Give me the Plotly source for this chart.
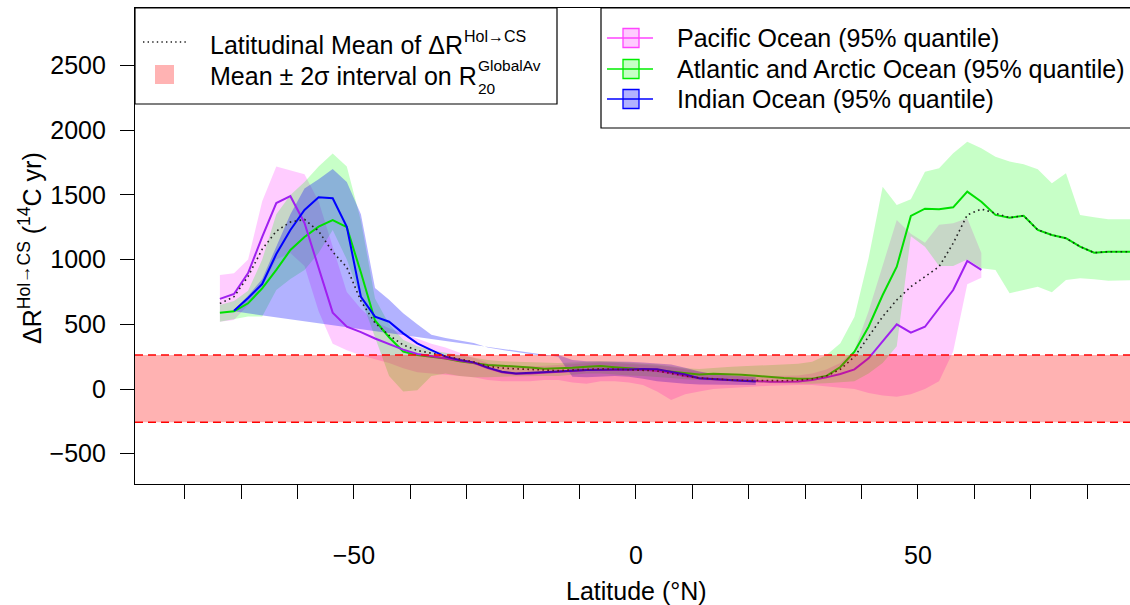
import plotly.graph_objects as go

# ---------------- data ----------------
lat = [-73.75, -71.25, -68.75, -66.25, -63.75, -61.25, -58.75, -56.25, -53.75, -51.25,
       -48.75, -46.25, -43.75, -41.25, -38.75, -36.25, -33.75, -31.25, -28.75, -26.25,
       -23.75, -21.25, -18.75, -16.25, -13.75, -11.25, -8.75, -6.25, -3.75, -1.25,
       1.25, 3.75, 6.25, 8.75, 11.25, 13.75, 16.25, 18.75, 21.25, 23.75,
       26.25, 28.75, 31.25, 33.75, 36.25, 38.75, 41.25, 43.75, 46.25, 48.75,
       51.25, 53.75, 56.25, 58.75, 61.25, 63.75, 66.25, 68.75, 71.25, 73.75,
       76.25, 78.75, 81.25, 83.75, 86.25, 88.75]

N = None
pacific = [696, 734, 896, 1175, 1437, 1490, 1283, 940, 590, 481,
           440, 390, 345, 304, 270, 255, 238, 220, 203, 162,
           130, 117, 120, 128, 133, 139, 146, 148, 150, 152,
           150, 140, 124, 100, 83, 75, 70, 64, 60, 57,
           56, 58, 70, 90, 116, 152, 237, 366, 500, 435,
           481, 624, 765, 989, 920, N, N, N, N, N,
           N, N, N, N, N, N]
pacific_lo = [520, 533, 650, 800, 1000, 1050, 950, 600, 350, 300,
              260, 230, 200, 160, 130, 120, 110, 100, 90, 70,
              60, 60, 60, 70, 70, 50, 40, 60, 60, 50,
              30, -20, -85, -40, -20, 0, 10, 15, 20, 25,
              30, 30, 30, 20, 10, 0, -30, -50, -60, -40,
              0, 60, 290, 810, 860, N, N, N, N, N,
              N, N, N, N, N, N]
pacific_hi = [880, 894, 1000, 1450, 1720, 1690, 1660, 1450, 1100, 750,
              620, 520, 470, 430, 390, 350, 320, 280, 240, 200,
              180, 175, 175, 180, 185, 195, 200, 205, 200, 195,
              190, 180, 170, 150, 130, 115, 105, 100, 100, 100,
              100, 105, 120, 150, 200, 300, 600, 950, 1306, 1200,
              1130, 1270, 1280, 1320, 1050, N, N, N, N, N,
              N, N, N, N, N, N]

atlantic = [590, 600, 662, 778, 920, 1074, 1175, 1255, 1306, 1250,
            900, 530, 400, 290, 262, 250, 235, 215, 199, 186,
            180, 175, 166, 156, 158, 165, 172, 177, 168, 158,
            152, 145, 135, 120, 112, 118, 115, 110, 102, 92,
            85, 79, 80, 100, 170, 288, 481, 726, 945, 1337,
            1393, 1389, 1404, 1525, 1447, 1345, 1324, 1339, 1229, 1190,
            1165, 1100, 1053, 1061, 1061, 1061]
atlantic_lo = [520, 540, 560, 560, 765, 850, 920, 1050, 1229, 1000,
               700, 400, 100, -20, -10, 100, 120, 100, 90, 90,
               95, 100, 100, 100, 100, 110, 120, 120, 115, 105,
               100, 95, 85, 75, 65, 60, 60, 55, 50, 45,
               45, 40, 40, 45, 50, 60, 120, 200, 330, 1180,
               1100, 950, 950, 1000, 933, 920, 740, 765, 791, 747,
               842, 855, 848, 837, 842, 842]
atlantic_hi = [650, 680, 760, 1000, 1350, 1500, 1600, 1720, 1820, 1720,
               1300, 700, 500, 380, 330, 300, 280, 260, 240, 225,
               215, 210, 205, 200, 200, 205, 210, 215, 210, 200,
               195, 190, 175, 160, 155, 165, 170, 175, 180, 185,
               190, 195, 210, 260, 353, 559, 1010, 1563, 1422, 1466,
               1679, 1705, 1821, 1911, 1860, 1795, 1757, 1736, 1698, 1590,
               1667, 1345, 1327, 1311, 1311, 1311]

indian = [N, 605, 703, 811, 1043, 1229, 1383, 1481, 1474, 1254,
          713, 559, 520, 430, 353, 301, 250, 224, 206, 165,
          133, 120, 124, 131, 136, 141, 146, 150, 150, 150,
          154, 152, 134, 112, 83, 75, 70, 64, 58, N,
          N, N, N, N, N, N, N, N, N, N,
          N, N, N, N, N, N, N, N, N, N,
          N, N, N, N, N, N]
indian_lo = [N, 600, N, N, N, N, N, N, N, N,
             N, N, N, N, N, N, N, N, N, N,
             N, N, N, N, 250, 95, 90, 95, 100, 95,
             80, 60, 50, 40, 35, 35, 35, 30, 30, N,
             N, N, N, N, N, N, N, N, N, N,
             N, N, N, N, N, N, N, N, N, N,
             N, N, N, N, N, N]
indian_hi = [N, 610, 720, 850, 1100, 1350, 1550, 1620, 1700, 1600,
             1350, 780, 690, 585, 500, 420, 395, 375, 355, 320,
             300, 285, 270, 255, 262, 225, 215, 215, 210, 210,
             205, 200, 190, 165, 135, 115, 105, 95, 90, N,
             N, N, N, N, N, N, N, N, N, N,
             N, N, N, N, N, N, N, N, N, N,
             N, N, N, N, N, N]

lat_mean = [660, 713, 870, 1080, 1220, 1290, 1310, 1220, 1060, 940,
            680, 510, 415, 340, 298, 275, 255, 232, 210, 175,
            162, 156, 150, 145, 142, 148, 152, 156, 153, 150,
            148, 140, 120, 100, 86, 78, 72, 68, 65, 63,
            64, 68, 78, 100, 152, 250, 404, 559, 688, 791,
            868, 945, 1126, 1345, 1391, 1358, 1324, 1339, 1229, 1190,
            1165, 1100, 1053, 1061, 1061, 1061]

sigma_band = [-256, 262]          # mean +/- 2 sigma on R20 GlobalAv

x_ticks = [-80, -70, -60, -50, -40, -30, -20, -10, 0, 10, 20, 30, 40, 50, 60, 70, 80]
x_labels = [" ", " ", " ", "\u221250", " ", " ", " ", " ", "0", " ", " ", " ", " ", "50", " ", " ", " "]
y_ticks = [-500, 0, 500, 1000, 1500, 2000, 2500]
y_labels = ["\u2212500", "0", "500", "1000", "1500", "2000", "2500"]

# ---------------- styling ----------------
FONT = "Liberation Sans, Arial, Helvetica, sans-serif"
FS = 25
PAC_FILL = "rgba(255,0,255,0.20)"
ATL_FILL = "rgba(0,255,0,0.22)"
IND_FILL = "rgba(0,0,255,0.30)"
PAC_LINE = "#A020F0"
ATL_LINE = "#00E000"
IND_LINE = "#0000FF"
PAC_LEG = "#FF44FF"
ATL_LEG = "#00EE00"

W, H = 1130, 605
L, R, T, B = 135, 0, 8, 121
PW, PH = W - L - R, H - T - B


def px(x):
    return (x - L) / PW


def py(y):
    return (H - B - y) / PH


def polygon(lo, hi):
    xs, ys = [], []
    for la, v in zip(lat, hi):
        if v is not None:
            xs.append(la)
            ys.append(v)
    for la, v in reversed(list(zip(lat, lo))):
        if v is not None:
            xs.append(la)
            ys.append(v)
    return xs, ys


fig = go.Figure()

for lo, hi, col in [(pacific_lo, pacific_hi, PAC_FILL),
                    (atlantic_lo, atlantic_hi, ATL_FILL),
                    (indian_lo, indian_hi, IND_FILL)]:
    xs, ys = polygon(lo, hi)
    fig.add_trace(go.Scatter(x=xs, y=ys, mode="lines", fill="toself", fillcolor=col,
                             line=dict(width=0), hoverinfo="skip"))

fig.add_trace(go.Scatter(x=lat, y=atlantic, mode="lines", line=dict(color=ATL_LINE, width=2)))
fig.add_trace(go.Scatter(x=lat, y=pacific, mode="lines", line=dict(color=PAC_LINE, width=2)))
fig.add_trace(go.Scatter(x=lat, y=indian, mode="lines", line=dict(color=IND_LINE, width=2)))
fig.add_trace(go.Scatter(x=lat, y=lat_mean, mode="lines",
                         line=dict(color="#222222", width=1.6, dash="1.6px,3.4px")))

shapes = []
# red +/- 2 sigma band and dashed borders
shapes.append(dict(type="rect", xref="paper", yref="y", x0=0, x1=1,
                   y0=sigma_band[0], y1=sigma_band[1], fillcolor="rgba(255,0,0,0.30)",
                   line=dict(width=0), layer="above"))
for v in sigma_band:
    shapes.append(dict(type="line", xref="paper", yref="y", x0=0, x1=1, y0=v, y1=v,
                       line=dict(color="#FF0000", width=1.5, dash="8px,5px"), layer="above"))

# legend boxes
shapes.append(dict(type="rect", xref="paper", yref="paper", x0=px(135), x1=px(557),
                   y0=py(104), y1=py(8), fillcolor="white", line=dict(color="black", width=1.2),
                   layer="above"))
shapes.append(dict(type="rect", xref="paper", yref="paper", x0=px(601), x1=px(1140),
                   y0=py(128), y1=py(8), fillcolor="white", line=dict(color="black", width=1.2),
                   layer="above"))
# legend 1 symbols
shapes.append(dict(type="line", xref="paper", yref="paper", x0=px(143), x1=px(186),
                   y0=py(42), y1=py(42), line=dict(color="#222222", width=1.4, dash="1.4px,3.2px"),
                   layer="above"))
shapes.append(dict(type="rect", xref="paper", yref="paper", x0=px(155), x1=px(174),
                   y0=py(84), y1=py(65), fillcolor="#FFB3B3", line=dict(width=0), layer="above"))
# legend 2 symbols
leg2 = [("Pacific Ocean (95% quantile)", PAC_LEG, PAC_FILL, 38),
        ("Atlantic and Arctic Ocean (95% quantile)", ATL_LEG, ATL_FILL, 69),
        ("Indian Ocean (95% quantile)", IND_LINE, IND_FILL, 99)]
annotations = []
for text, lc, fc, yc in leg2:
    shapes.append(dict(type="rect", xref="paper", yref="paper", x0=px(623), x1=px(639),
                       y0=py(yc + 9.5), y1=py(yc - 9.5), fillcolor=fc,
                       line=dict(color=lc, width=1.3), layer="above"))
    shapes.append(dict(type="line", xref="paper", yref="paper", x0=px(607), x1=px(653),
                       y0=py(yc), y1=py(yc), line=dict(color=lc, width=1.3), layer="above"))
    annotations.append(dict(text=text, xref="paper", yref="paper", x=px(675), y=py(yc),
                            xanchor="left", yanchor="middle", showarrow=False,
                            font=dict(size=FS, family=FONT, color="black")))

# legend 1 texts
annotations.append(dict(text="Latitudinal Mean of \u0394R", xref="paper", yref="paper",
                        x=px(208), y=py(45), xanchor="left", yanchor="middle", showarrow=False,
                        font=dict(size=FS, family=FONT)))
annotations.append(dict(text="Hol\u2192CS", xref="paper", yref="paper",
                        x=px(462), y=py(36), xanchor="left", yanchor="middle", showarrow=False,
                        font=dict(size=16, family=FONT)))
annotations.append(dict(text="Mean \u00b1 2\u03c3 interval on R", xref="paper", yref="paper",
                        x=px(208), y=py(76), xanchor="left", yanchor="middle", showarrow=False,
                        font=dict(size=FS, family=FONT)))
annotations.append(dict(text="GlobalAv", xref="paper", yref="paper",
                        x=px(476), y=py(65), xanchor="left", yanchor="middle", showarrow=False,
                        font=dict(size=15.5, family=FONT)))
annotations.append(dict(text="20", xref="paper", yref="paper",
                        x=px(476), y=py(89), xanchor="left", yanchor="middle", showarrow=False,
                        font=dict(size=15.5, family=FONT)))

# axis titles
annotations.append(dict(text="Latitude (\u00b0N)", xref="paper", yref="paper",
                        x=px(636), y=py(591), xanchor="center", yanchor="middle", showarrow=False,
                        font=dict(size=FS, family=FONT)))
annotations.append(dict(text="\u0394R<sup>Hol\u2192CS</sup> (<sup>14</sup>C yr)", xref="paper",
                        yref="paper", x=px(30), y=py(248), xanchor="center", yanchor="middle",
                        textangle=-90, showarrow=False, font=dict(size=FS, family=FONT)))

fig.update_layout(
    width=W, height=H, margin=dict(l=L, r=R, t=T, b=B, pad=0),
    plot_bgcolor="white", paper_bgcolor="white", showlegend=False,
    font=dict(family=FONT, size=FS, color="black"),
    shapes=shapes, annotations=annotations,
    xaxis=dict(range=[-88.8, 87.6], tickmode="array", tickvals=x_ticks, ticktext=x_labels,
               ticks="outside", ticklen=14, tickwidth=1, tickcolor="black",
               showline=True, linecolor="black", linewidth=1.2, mirror=True,
               showgrid=False, zeroline=False, ticklabelstandoff=35,
               tickfont=dict(size=FS, family=FONT)),
    yaxis=dict(range=[-734, 2944], tickmode="array", tickvals=y_ticks, ticktext=y_labels,
               ticks="outside", ticklen=14, tickwidth=1, tickcolor="black",
               showline=True, linecolor="black", linewidth=1.2, mirror=False,
               showgrid=False, zeroline=False, ticklabelstandoff=9,
               tickfont=dict(size=FS, family=FONT)),
)

fig.write_html("out.html")
